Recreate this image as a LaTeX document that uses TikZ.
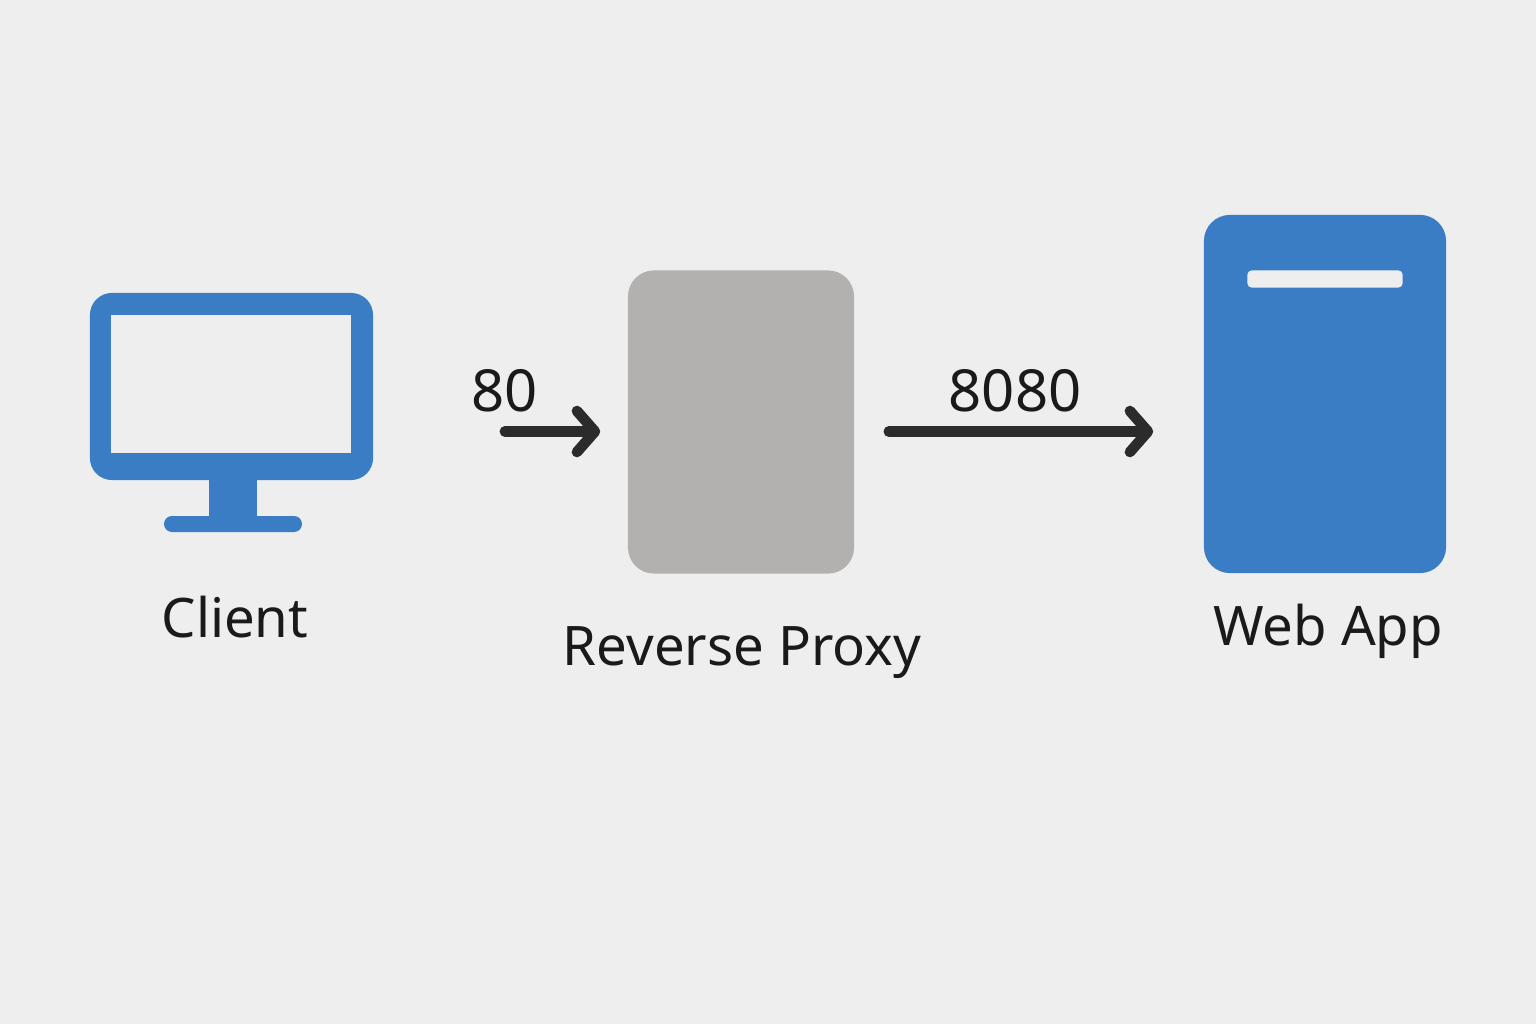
\documentclass[tikz,border=0pt]{standalone}
\usepackage{fontspec}
\setmainfont{Noto Sans}
\usetikzlibrary{arrows.meta,positioning}
\definecolor{bgcol}{HTML}{EEEEEE}
\definecolor{iconblue}{HTML}{3B7DC4}
\definecolor{proxygray}{HTML}{B2B1AF}
\definecolor{inkcol}{HTML}{1A1A1A}
\definecolor{arrowcol}{HTML}{2B2B2B}
\tikzset{
  iconbox/.style={fill=iconblue,inner sep=0pt,rounded corners=.22cm},
  caption/.style={text=inkcol,font=\fontsize{15.5}{18}\selectfont,inner sep=0pt},
  portlabel/.style={text=inkcol,font=\fontsize{16.5}{18}\selectfont,inner sep=0pt},
  flow/.style={draw=arrowcol,line width=3pt,line cap=round,
    -{Straight Barb[length=.18cm,width=.41cm,line width=3pt,round]}}
}
\begin{document}
\begin{tikzpicture}[x=.01cm,y=-.01cm]
   \fill[bgcol] (0,0) rectangle (1536,1024);
   \useasboundingbox (0,0) rectangle (1536,1024);
   % client monitor
   \node[iconbox,minimum width=2.83cm,minimum height=1.87cm] (client) at (231.5,386.5) {};
   \node[fill=bgcol,inner sep=0pt,minimum width=2.40cm,minimum height=1.38cm] (screen) at (231,384) {};
   \node[fill=iconblue,inner sep=0pt,minimum width=.48cm,minimum height=.38cm] (stand) at (233,498) {};
   \node[fill=iconblue,inner sep=0pt,rounded corners=.08cm,minimum width=1.38cm,minimum height=.16cm] (foot) at (233,524) {};
   \node[caption] (clientlabel) at (235,617) {Client};
   % proxy and web app
   \node[fill=proxygray,inner sep=0pt,rounded corners=.26cm,minimum width=2.26cm,minimum height=3.03cm] (proxy) at (741,422) {};
   \node[caption] (proxylabel) at (742,653) {Reverse Proxy};
   \node[iconbox,rounded corners=.26cm,minimum width=2.42cm,minimum height=3.58cm] (app) at (1325,394) {};
   \node[fill=bgcol,inner sep=0pt,rounded corners=.04cm,minimum width=1.55cm,minimum height=.17cm] (slot) at (1325,279) {};
   \node[caption] (applabel) at (1328,631) {Web App};
   % ports
   \coordinate (port) at (proxy.west |- 0,431.5);
   \draw[flow,shorten <=1.31cm,shorten >=.27cm] (client.east |- port) -- (port);
   \draw[flow,shorten <=.34cm,shorten >=.50cm] (proxy.east |- port) -- (app.west |- port);
   \node[portlabel] (porta) at (504.5,391) {80};
   \node[portlabel] (portb) at (1015,391) {8080};
\end{tikzpicture}
\end{document}
